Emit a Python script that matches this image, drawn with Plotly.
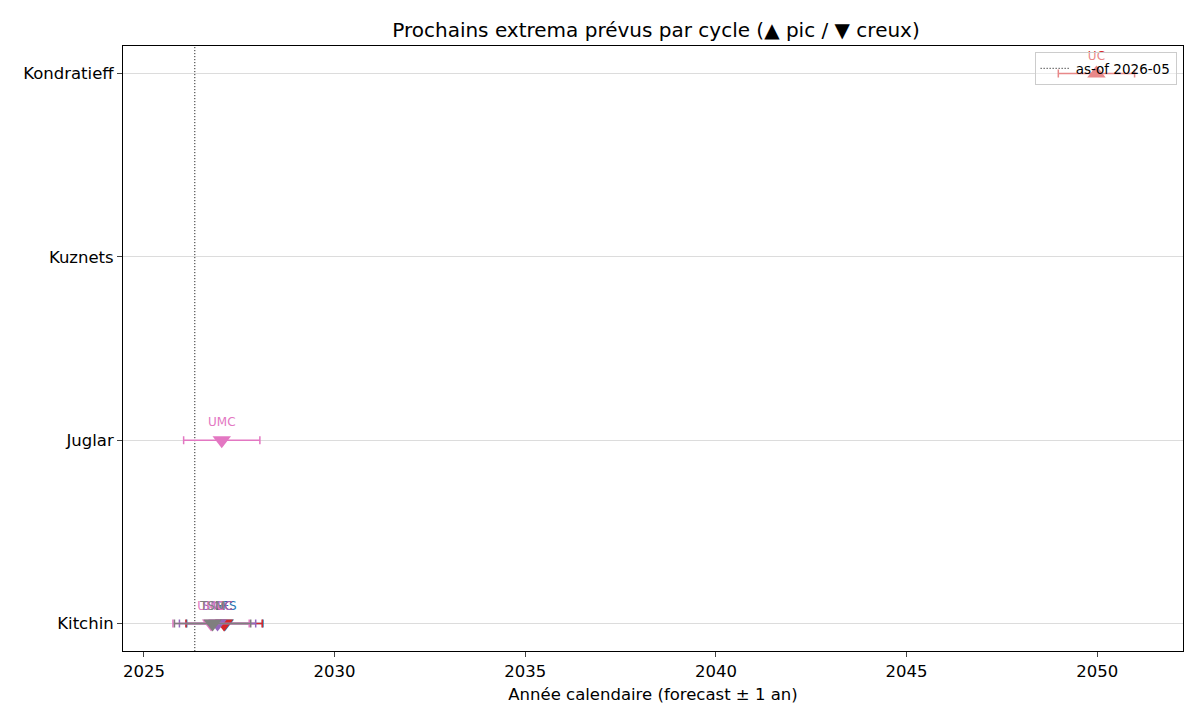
import plotly.graph_objects as go

# cycles on the y axis (bottom -> top)
cycle_names = ["Kitchin", "Juglar", "Kuznets", "Kondratieff"]

# next forecast extrema
point_labels = ["GFS", "UC", "SMIC", "UMC", "TSM", "UMC", "UC"]
point_cycles = ["Kitchin", "Kitchin", "Kitchin", "Kitchin", "Kitchin", "Juglar", "Kondratieff"]
point_years = [2027.12, 2027.10, 2026.93, 2026.76, 2026.80, 2027.04, 2049.98]
point_kinds = ["creux", "creux", "creux", "creux", "creux", "creux", "pic"]
point_err = [1, 1, 1, 1, 1, 1, 1]

asof_year = 2026 + 4 / 12
asof_label = "as-of 2026-05"

label_colors = {
    "GFS": "#1f77b4",
    "UC": "#d62728",
    "SMIC": "#9467bd",
    "TSM": "#7f7f7f",
    "UMC": "#e377c2",
}

fig = go.Figure()

fig.add_trace(go.Scatter(
    x=[asof_year, asof_year], y=[-0.2, 3.2],
    mode="lines", line=dict(color="black", width=1, dash="1px,2px"),
    name=asof_label, showlegend=True, hoverinfo="skip",
))

for lab, cyc, yr, kind, err in zip(point_labels, point_cycles, point_years, point_kinds, point_err):
    col = label_colors[lab]
    fig.add_trace(go.Scatter(
        x=[yr], y=[cycle_names.index(cyc)],
        mode="markers+text",
        marker=dict(symbol="triangle-up" if kind == "pic" else "triangle-down",
                    size=16, color=col, line=dict(width=0)),
        error_x=dict(type="data", array=[err], color=col, thickness=1.5, width=4),
        text=[lab], textposition="top center",
        textfont=dict(size=12, color=col, family="DejaVu Sans"),
        showlegend=False, cliponaxis=False,
    ))

# page body adds ~8px offset, margins compensate
fig.update_layout(
    width=1200, height=720,
    paper_bgcolor="white", plot_bgcolor="white",
    margin=dict(l=115, r=25, t=38, b=77),
    font=dict(family="DejaVu Sans", size=16, color="black"),
    title=dict(text="Prochains extrema prévus par cycle (▲ pic / ▼ creux)",
               x=0.54, xanchor="center", y=0.97, yanchor="middle",
               font=dict(size=20)),
    xaxis=dict(
        range=[2024.45, 2052.25], tickvals=[2025, 2030, 2035, 2040, 2045, 2050],
        showgrid=False, zeroline=False, showline=True, linecolor="black", mirror=True,
        ticks="outside", ticklen=5, tickfont=dict(size=16.5), automargin=False,
        title=dict(text="Année calendaire (forecast ± 1 an)", font=dict(size=16.5), standoff=8),
    ),
    yaxis=dict(
        range=[-0.15, 3.15], tickvals=[0, 1, 2, 3], ticktext=cycle_names,
        showgrid=True, gridcolor="#dcdcdc", gridwidth=1, zeroline=False,
        showline=True, linecolor="black", mirror=True, automargin=False,
        ticks="outside", ticklen=5, tickfont=dict(size=16.5),
    ),
    legend=dict(
        x=0.994, y=0.99, xanchor="right", yanchor="top",
        bgcolor="rgba(255,255,255,0.45)", bordercolor="#cccccc", borderwidth=1,
        font=dict(size=13.5), tracegroupgap=0, itemwidth=30,
    ),
)

fig.write_html("out.html")
